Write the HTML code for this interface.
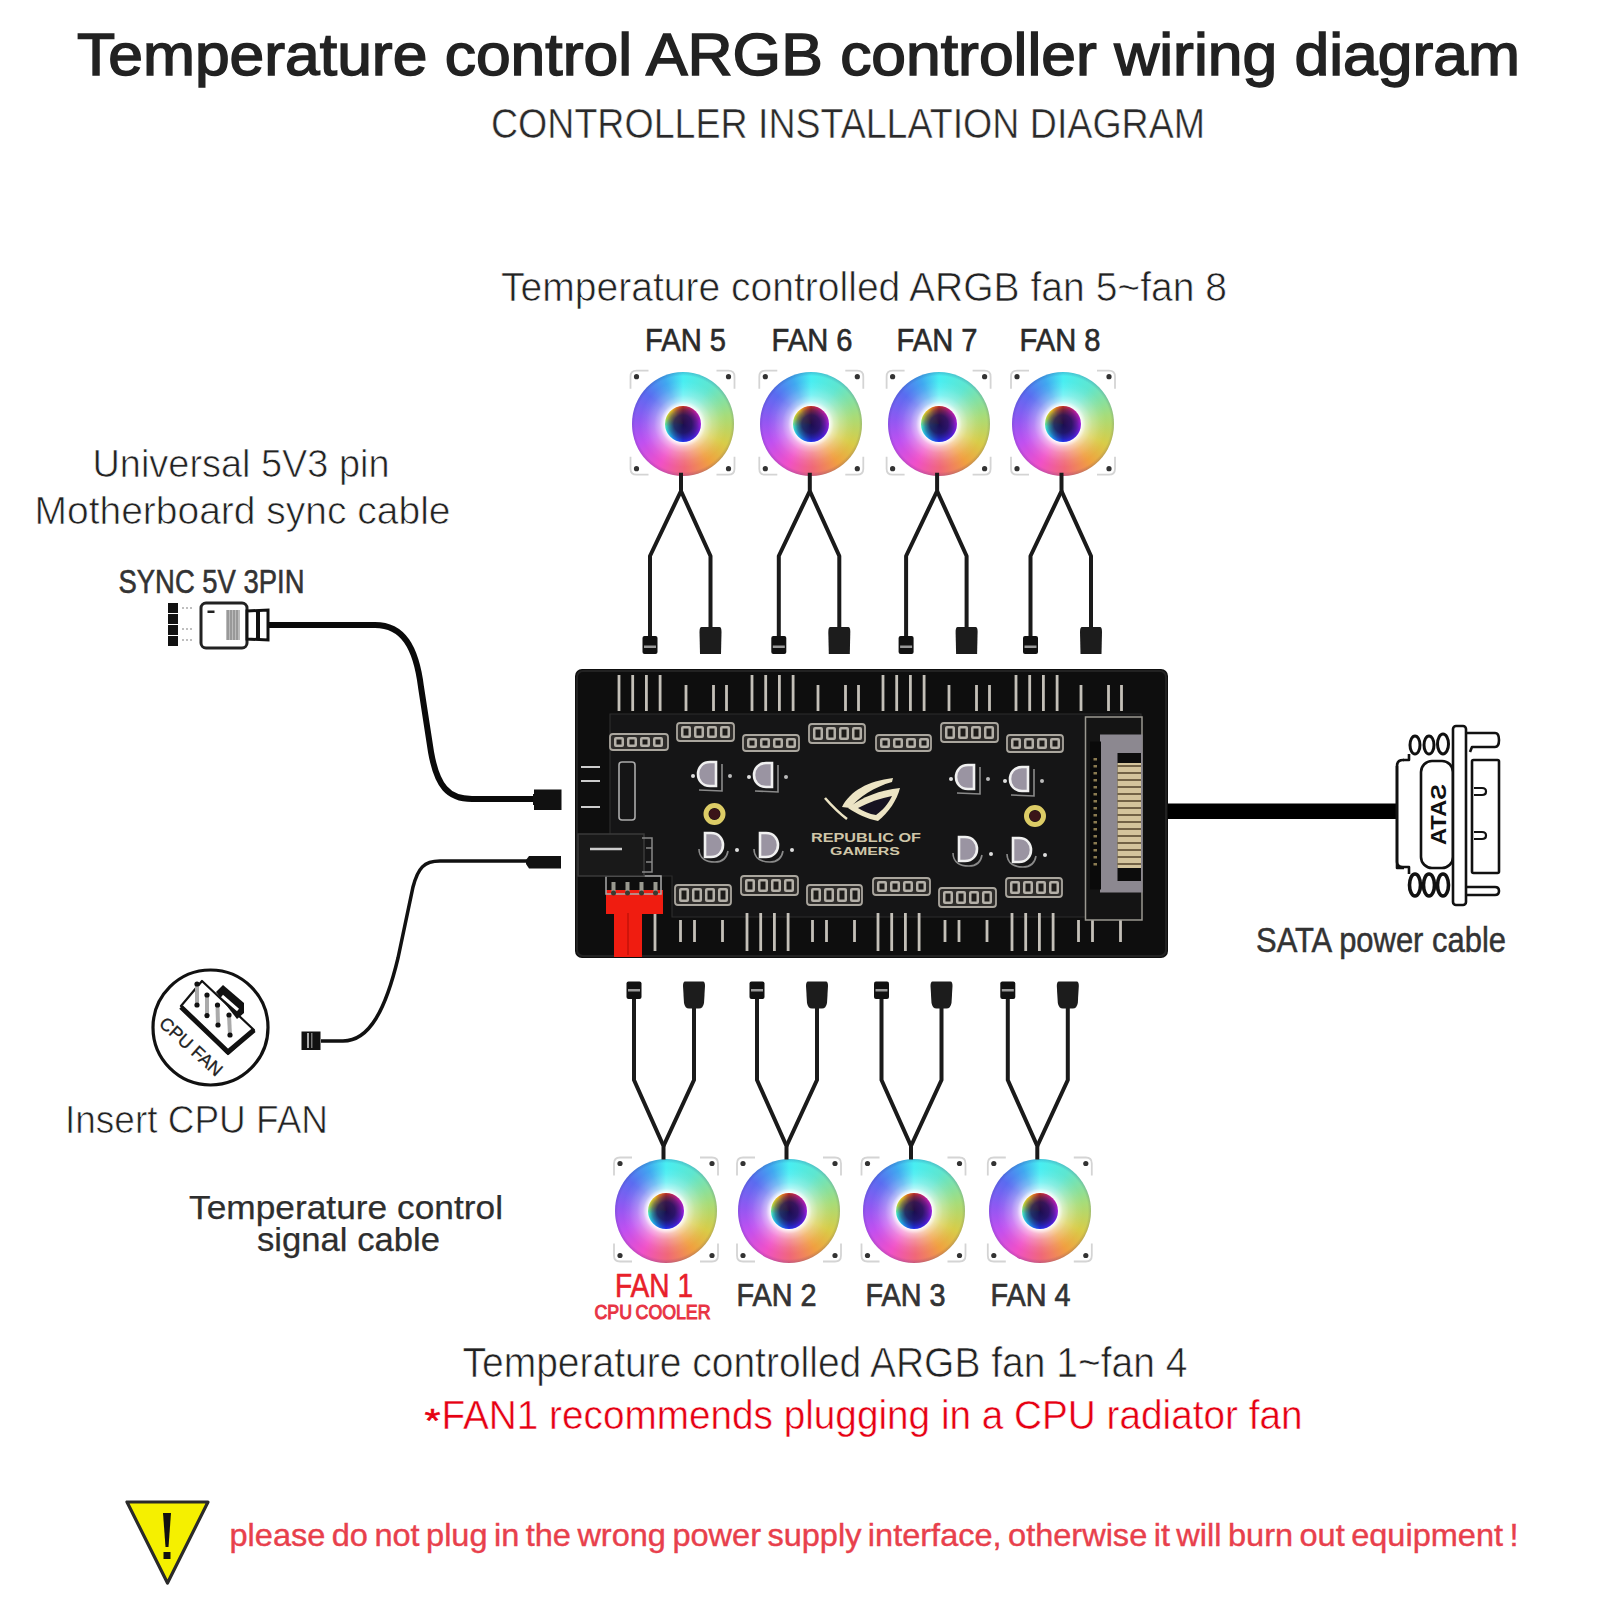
<!DOCTYPE html>
<html><head><meta charset="utf-8"><style>
html,body{margin:0;padding:0;background:#fff;}
body{width:1600px;height:1600px;position:relative;overflow:hidden;font-family:"Liberation Sans", sans-serif;}
svg{position:absolute;left:0;top:0;}
.fan{position:absolute;width:102px;height:104px;border-radius:50%;
background:conic-gradient(from 0deg,#48eef2 0deg,#5ee6d0 35deg,#a8dc78 80deg,#d8cc48 115deg,#f0a040 145deg,#f06878 178deg,#f050c8 210deg,#c050f0 245deg,#9058f2 275deg,#5a6cf0 310deg,#40a8f0 338deg,#48eef2 360deg);}
.fan .glow{position:absolute;inset:0;border-radius:50%;background:radial-gradient(circle at 50% 50%,rgba(255,255,255,1) 0px,rgba(255,255,255,1) 18px,rgba(255,255,255,.55) 23px,rgba(255,255,255,.28) 29px,rgba(255,255,255,.08) 37px,rgba(255,255,255,0) 43px,rgba(30,30,120,0) 48px,rgba(30,30,120,.2) 52px);}
.fan .hub{position:absolute;left:33px;top:34px;width:36px;height:36px;border-radius:50%;
background:radial-gradient(circle,rgba(25,12,70,.95) 0,rgba(30,18,85,.85) 9px,rgba(30,20,90,.45) 14px,rgba(0,0,0,0) 18px),conic-gradient(from 0deg,#c03020 0deg,#c020a0 45deg,#a020e0 90deg,#5020e0 135deg,#2030f0 180deg,#20b0f0 225deg,#40f0d0 260deg,#c0e040 290deg,#f0c020 320deg,#e06020 345deg,#c03020 360deg);}
</style></head><body>
<svg width="1600" height="1600" viewBox="0 0 1600 1600">
<circle cx="636.5" cy="376.7" r="2.6" fill="#333"/>
<path d="M630.5,388.7 L630.5,376.7 Q630.5,370.7 636.5,370.7 L648.5,370.7" fill="none" stroke="#d4d4d4" stroke-width="1.8"/>
<circle cx="636.5" cy="468.7" r="2.6" fill="#333"/>
<path d="M630.5,456.7 L630.5,468.7 Q630.5,474.7 636.5,474.7 L648.5,474.7" fill="none" stroke="#d4d4d4" stroke-width="1.8"/>
<circle cx="728.5" cy="376.7" r="2.6" fill="#333"/>
<path d="M734.5,388.7 L734.5,376.7 Q734.5,370.7 728.5,370.7 L716.5,370.7" fill="none" stroke="#d4d4d4" stroke-width="1.8"/>
<circle cx="728.5" cy="468.7" r="2.6" fill="#333"/>
<path d="M734.5,456.7 L734.5,468.7 Q734.5,474.7 728.5,474.7 L716.5,474.7" fill="none" stroke="#d4d4d4" stroke-width="1.8"/>
<circle cx="765.3" cy="376.7" r="2.6" fill="#333"/>
<path d="M759.3,388.7 L759.3,376.7 Q759.3,370.7 765.3,370.7 L777.3,370.7" fill="none" stroke="#d4d4d4" stroke-width="1.8"/>
<circle cx="765.3" cy="468.7" r="2.6" fill="#333"/>
<path d="M759.3,456.7 L759.3,468.7 Q759.3,474.7 765.3,474.7 L777.3,474.7" fill="none" stroke="#d4d4d4" stroke-width="1.8"/>
<circle cx="857.3" cy="376.7" r="2.6" fill="#333"/>
<path d="M863.3,388.7 L863.3,376.7 Q863.3,370.7 857.3,370.7 L845.3,370.7" fill="none" stroke="#d4d4d4" stroke-width="1.8"/>
<circle cx="857.3" cy="468.7" r="2.6" fill="#333"/>
<path d="M863.3,456.7 L863.3,468.7 Q863.3,474.7 857.3,474.7 L845.3,474.7" fill="none" stroke="#d4d4d4" stroke-width="1.8"/>
<circle cx="892.6" cy="376.7" r="2.6" fill="#333"/>
<path d="M886.6,388.7 L886.6,376.7 Q886.6,370.7 892.6,370.7 L904.6,370.7" fill="none" stroke="#d4d4d4" stroke-width="1.8"/>
<circle cx="892.6" cy="468.7" r="2.6" fill="#333"/>
<path d="M886.6,456.7 L886.6,468.7 Q886.6,474.7 892.6,474.7 L904.6,474.7" fill="none" stroke="#d4d4d4" stroke-width="1.8"/>
<circle cx="984.6" cy="376.7" r="2.6" fill="#333"/>
<path d="M990.6,388.7 L990.6,376.7 Q990.6,370.7 984.6,370.7 L972.6,370.7" fill="none" stroke="#d4d4d4" stroke-width="1.8"/>
<circle cx="984.6" cy="468.7" r="2.6" fill="#333"/>
<path d="M990.6,456.7 L990.6,468.7 Q990.6,474.7 984.6,474.7 L972.6,474.7" fill="none" stroke="#d4d4d4" stroke-width="1.8"/>
<circle cx="1017.0" cy="376.7" r="2.6" fill="#333"/>
<path d="M1011.0,388.7 L1011.0,376.7 Q1011.0,370.7 1017.0,370.7 L1029.0,370.7" fill="none" stroke="#d4d4d4" stroke-width="1.8"/>
<circle cx="1017.0" cy="468.7" r="2.6" fill="#333"/>
<path d="M1011.0,456.7 L1011.0,468.7 Q1011.0,474.7 1017.0,474.7 L1029.0,474.7" fill="none" stroke="#d4d4d4" stroke-width="1.8"/>
<circle cx="1109.0" cy="376.7" r="2.6" fill="#333"/>
<path d="M1115.0,388.7 L1115.0,376.7 Q1115.0,370.7 1109.0,370.7 L1097.0,370.7" fill="none" stroke="#d4d4d4" stroke-width="1.8"/>
<circle cx="1109.0" cy="468.7" r="2.6" fill="#333"/>
<path d="M1115.0,456.7 L1115.0,468.7 Q1115.0,474.7 1109.0,474.7 L1097.0,474.7" fill="none" stroke="#d4d4d4" stroke-width="1.8"/>
<circle cx="620.0" cy="1163.5" r="2.6" fill="#333"/>
<path d="M614.0,1175.5 L614.0,1163.5 Q614.0,1157.5 620.0,1157.5 L632.0,1157.5" fill="none" stroke="#d4d4d4" stroke-width="1.8"/>
<circle cx="620.0" cy="1255.5" r="2.6" fill="#333"/>
<path d="M614.0,1243.5 L614.0,1255.5 Q614.0,1261.5 620.0,1261.5 L632.0,1261.5" fill="none" stroke="#d4d4d4" stroke-width="1.8"/>
<circle cx="712.0" cy="1163.5" r="2.6" fill="#333"/>
<path d="M718.0,1175.5 L718.0,1163.5 Q718.0,1157.5 712.0,1157.5 L700.0,1157.5" fill="none" stroke="#d4d4d4" stroke-width="1.8"/>
<circle cx="712.0" cy="1255.5" r="2.6" fill="#333"/>
<path d="M718.0,1243.5 L718.0,1255.5 Q718.0,1261.5 712.0,1261.5 L700.0,1261.5" fill="none" stroke="#d4d4d4" stroke-width="1.8"/>
<circle cx="743.0" cy="1163.5" r="2.6" fill="#333"/>
<path d="M737.0,1175.5 L737.0,1163.5 Q737.0,1157.5 743.0,1157.5 L755.0,1157.5" fill="none" stroke="#d4d4d4" stroke-width="1.8"/>
<circle cx="743.0" cy="1255.5" r="2.6" fill="#333"/>
<path d="M737.0,1243.5 L737.0,1255.5 Q737.0,1261.5 743.0,1261.5 L755.0,1261.5" fill="none" stroke="#d4d4d4" stroke-width="1.8"/>
<circle cx="835.0" cy="1163.5" r="2.6" fill="#333"/>
<path d="M841.0,1175.5 L841.0,1163.5 Q841.0,1157.5 835.0,1157.5 L823.0,1157.5" fill="none" stroke="#d4d4d4" stroke-width="1.8"/>
<circle cx="835.0" cy="1255.5" r="2.6" fill="#333"/>
<path d="M841.0,1243.5 L841.0,1255.5 Q841.0,1261.5 835.0,1261.5 L823.0,1261.5" fill="none" stroke="#d4d4d4" stroke-width="1.8"/>
<circle cx="867.5" cy="1163.5" r="2.6" fill="#333"/>
<path d="M861.5,1175.5 L861.5,1163.5 Q861.5,1157.5 867.5,1157.5 L879.5,1157.5" fill="none" stroke="#d4d4d4" stroke-width="1.8"/>
<circle cx="867.5" cy="1255.5" r="2.6" fill="#333"/>
<path d="M861.5,1243.5 L861.5,1255.5 Q861.5,1261.5 867.5,1261.5 L879.5,1261.5" fill="none" stroke="#d4d4d4" stroke-width="1.8"/>
<circle cx="959.5" cy="1163.5" r="2.6" fill="#333"/>
<path d="M965.5,1175.5 L965.5,1163.5 Q965.5,1157.5 959.5,1157.5 L947.5,1157.5" fill="none" stroke="#d4d4d4" stroke-width="1.8"/>
<circle cx="959.5" cy="1255.5" r="2.6" fill="#333"/>
<path d="M965.5,1243.5 L965.5,1255.5 Q965.5,1261.5 959.5,1261.5 L947.5,1261.5" fill="none" stroke="#d4d4d4" stroke-width="1.8"/>
<circle cx="993.8" cy="1163.5" r="2.6" fill="#333"/>
<path d="M987.8,1175.5 L987.8,1163.5 Q987.8,1157.5 993.8,1157.5 L1005.8,1157.5" fill="none" stroke="#d4d4d4" stroke-width="1.8"/>
<circle cx="993.8" cy="1255.5" r="2.6" fill="#333"/>
<path d="M987.8,1243.5 L987.8,1255.5 Q987.8,1261.5 993.8,1261.5 L1005.8,1261.5" fill="none" stroke="#d4d4d4" stroke-width="1.8"/>
<circle cx="1085.8" cy="1163.5" r="2.6" fill="#333"/>
<path d="M1091.8,1175.5 L1091.8,1163.5 Q1091.8,1157.5 1085.8,1157.5 L1073.8,1157.5" fill="none" stroke="#d4d4d4" stroke-width="1.8"/>
<circle cx="1085.8" cy="1255.5" r="2.6" fill="#333"/>
<path d="M1091.8,1243.5 L1091.8,1255.5 Q1091.8,1261.5 1085.8,1261.5 L1073.8,1261.5" fill="none" stroke="#d4d4d4" stroke-width="1.8"/>
</svg>
<div class="fan" style="left:631.5px;top:371.7px"><div class="glow"></div><div class="hub"></div></div>
<div class="fan" style="left:760.3px;top:371.7px"><div class="glow"></div><div class="hub"></div></div>
<div class="fan" style="left:887.6px;top:371.7px"><div class="glow"></div><div class="hub"></div></div>
<div class="fan" style="left:1012.0px;top:371.7px"><div class="glow"></div><div class="hub"></div></div>
<div class="fan" style="left:615.0px;top:1158.5px"><div class="glow"></div><div class="hub"></div></div>
<div class="fan" style="left:738.0px;top:1158.5px"><div class="glow"></div><div class="hub"></div></div>
<div class="fan" style="left:862.5px;top:1158.5px"><div class="glow"></div><div class="hub"></div></div>
<div class="fan" style="left:988.8px;top:1158.5px"><div class="glow"></div><div class="hub"></div></div>
<svg width="1600" height="1600" viewBox="0 0 1600 1600" font-family='"Liberation Sans", sans-serif'>
<path d="M681.0,472.7 L681.0,491 L650.0,556 L650.0,640" fill="none" stroke="#1a1a1a" stroke-width="4" stroke-linejoin="round"/>
<path d="M681.0,491 L710.5,556 L710.5,630" fill="none" stroke="#1a1a1a" stroke-width="4" stroke-linejoin="round"/>
<rect x="642.5" y="636" width="15" height="18" rx="2" fill="#111"/><rect x="644.0" y="645.5" width="12" height="2.5" fill="#999"/>
<path d="M701.5,627 L719.5,627 Q721.5,627 721.5,632 L721.0,654 L700.0,654 L699.5,632 Q699.5,627 701.5,627 Z" fill="#1c1c1c"/>
<path d="M809.8,472.7 L809.8,491 L778.8,556 L778.8,640" fill="none" stroke="#1a1a1a" stroke-width="4" stroke-linejoin="round"/>
<path d="M809.8,491 L839.3,556 L839.3,630" fill="none" stroke="#1a1a1a" stroke-width="4" stroke-linejoin="round"/>
<rect x="771.3" y="636" width="15" height="18" rx="2" fill="#111"/><rect x="772.8" y="645.5" width="12" height="2.5" fill="#999"/>
<path d="M830.3,627 L848.3,627 Q850.3,627 850.3,632 L849.8,654 L828.8,654 L828.3,632 Q828.3,627 830.3,627 Z" fill="#1c1c1c"/>
<path d="M937.1,472.7 L937.1,491 L906.1,556 L906.1,640" fill="none" stroke="#1a1a1a" stroke-width="4" stroke-linejoin="round"/>
<path d="M937.1,491 L966.6,556 L966.6,630" fill="none" stroke="#1a1a1a" stroke-width="4" stroke-linejoin="round"/>
<rect x="898.6" y="636" width="15" height="18" rx="2" fill="#111"/><rect x="900.1" y="645.5" width="12" height="2.5" fill="#999"/>
<path d="M957.6,627 L975.6,627 Q977.6,627 977.6,632 L977.1,654 L956.1,654 L955.6,632 Q955.6,627 957.6,627 Z" fill="#1c1c1c"/>
<path d="M1061.5,472.7 L1061.5,491 L1030.5,556 L1030.5,640" fill="none" stroke="#1a1a1a" stroke-width="4" stroke-linejoin="round"/>
<path d="M1061.5,491 L1091.0,556 L1091.0,630" fill="none" stroke="#1a1a1a" stroke-width="4" stroke-linejoin="round"/>
<rect x="1023.0" y="636" width="15" height="18" rx="2" fill="#111"/><rect x="1024.5" y="645.5" width="12" height="2.5" fill="#999"/>
<path d="M1082.0,627 L1100.0,627 Q1102.0,627 1102.0,632 L1101.5,654 L1080.5,654 L1080.0,632 Q1080.0,627 1082.0,627 Z" fill="#1c1c1c"/>
<path d="M663.5,1159.5 L663.5,1146 L634.0,1080 L634.0,998" fill="none" stroke="#1a1a1a" stroke-width="4" stroke-linejoin="round"/>
<path d="M663.5,1146 L694.0,1080 L694.0,1006" fill="none" stroke="#1a1a1a" stroke-width="4" stroke-linejoin="round"/>
<rect x="626.5" y="981.5" width="15" height="17.5" rx="2" fill="#111"/><rect x="628.0" y="989" width="12" height="2.5" fill="#999"/>
<path d="M685.0,981.5 L703.0,981.5 Q705.0,981.5 705.0,986 L704.0,1003 Q703.0,1008.5 699.0,1008.5 L689.0,1008.5 Q685.0,1008.5 684.0,1003 L683.0,986 Q683.0,981.5 685.0,981.5 Z" fill="#1c1c1c"/>
<path d="M786.5,1159.5 L786.5,1146 L757.0,1080 L757.0,998" fill="none" stroke="#1a1a1a" stroke-width="4" stroke-linejoin="round"/>
<path d="M786.5,1146 L817.0,1080 L817.0,1006" fill="none" stroke="#1a1a1a" stroke-width="4" stroke-linejoin="round"/>
<rect x="749.5" y="981.5" width="15" height="17.5" rx="2" fill="#111"/><rect x="751.0" y="989" width="12" height="2.5" fill="#999"/>
<path d="M808.0,981.5 L826.0,981.5 Q828.0,981.5 828.0,986 L827.0,1003 Q826.0,1008.5 822.0,1008.5 L812.0,1008.5 Q808.0,1008.5 807.0,1003 L806.0,986 Q806.0,981.5 808.0,981.5 Z" fill="#1c1c1c"/>
<path d="M911.0,1159.5 L911.0,1146 L881.5,1080 L881.5,998" fill="none" stroke="#1a1a1a" stroke-width="4" stroke-linejoin="round"/>
<path d="M911.0,1146 L941.5,1080 L941.5,1006" fill="none" stroke="#1a1a1a" stroke-width="4" stroke-linejoin="round"/>
<rect x="874.0" y="981.5" width="15" height="17.5" rx="2" fill="#111"/><rect x="875.5" y="989" width="12" height="2.5" fill="#999"/>
<path d="M932.5,981.5 L950.5,981.5 Q952.5,981.5 952.5,986 L951.5,1003 Q950.5,1008.5 946.5,1008.5 L936.5,1008.5 Q932.5,1008.5 931.5,1003 L930.5,986 Q930.5,981.5 932.5,981.5 Z" fill="#1c1c1c"/>
<path d="M1037.3,1159.5 L1037.3,1146 L1007.8,1080 L1007.8,998" fill="none" stroke="#1a1a1a" stroke-width="4" stroke-linejoin="round"/>
<path d="M1037.3,1146 L1067.8,1080 L1067.8,1006" fill="none" stroke="#1a1a1a" stroke-width="4" stroke-linejoin="round"/>
<rect x="1000.3" y="981.5" width="15" height="17.5" rx="2" fill="#111"/><rect x="1001.8" y="989" width="12" height="2.5" fill="#999"/>
<path d="M1058.8,981.5 L1076.8,981.5 Q1078.8,981.5 1078.8,986 L1077.8,1003 Q1076.8,1008.5 1072.8,1008.5 L1062.8,1008.5 Q1058.8,1008.5 1057.8,1003 L1056.8,986 Q1056.8,981.5 1058.8,981.5 Z" fill="#1c1c1c"/>
<path d="M268,625 L375,625 C403,625 416,647 421,687 L431,752 C437,786 448,799 472,799 L536,799" fill="none" stroke="#0a0a0a" stroke-width="6"/>
<rect x="534" y="789.5" width="27.5" height="20.5" fill="#111"/><rect x="533" y="794" width="4" height="11" fill="#111"/>
<rect x="168" y="603" width="10" height="43" fill="#111"/>
<line x1="168" y1="613.5" x2="178" y2="613.5" stroke="#fff" stroke-width="1"/>
<line x1="168" y1="624.5" x2="178" y2="624.5" stroke="#fff" stroke-width="1"/>
<line x1="168" y1="635.5" x2="178" y2="635.5" stroke="#fff" stroke-width="1"/>
<line x1="182" y1="608" x2="193" y2="608" stroke="#aaa" stroke-width="1.5" stroke-dasharray="2,2"/>
<line x1="182" y1="629" x2="193" y2="629" stroke="#aaa" stroke-width="1.5" stroke-dasharray="2,2"/>
<line x1="182" y1="640" x2="193" y2="640" stroke="#aaa" stroke-width="1.5" stroke-dasharray="2,2"/>
<rect x="201" y="603" width="46" height="45" rx="5" fill="#fff" stroke="#222" stroke-width="3"/>
<rect x="207.5" y="610.5" width="7" height="2.5" fill="#222"/>
<rect x="226" y="610" width="14" height="30" fill="#bbb"/>
<line x1="228" y1="610" x2="228" y2="640" stroke="#777" stroke-width="1"/>
<line x1="231" y1="610" x2="231" y2="640" stroke="#777" stroke-width="1"/>
<line x1="234" y1="610" x2="234" y2="640" stroke="#777" stroke-width="1"/>
<line x1="237" y1="610" x2="237" y2="640" stroke="#777" stroke-width="1"/>
<path d="M247,611 L268,610 L268,640 L247,639 Z" fill="#fff" stroke="#111" stroke-width="3"/>
<rect x="256" y="611" width="4" height="28" fill="#111"/>
<path d="M321,1041 L343,1041 C370,1041 386,1008 398,958 L413,887 C418,868 424,861 440,861 L530,861" fill="none" stroke="#111" stroke-width="3.5"/>
<rect x="301.5" y="1031.5" width="19" height="18.5" fill="#111"/><rect x="307" y="1033" width="2" height="15" fill="#aaa"/><rect x="311" y="1033" width="1.5" height="15" fill="#777"/>
<path d="M529,856 L561,856 L561,868.5 L529,868.5 L526,864 L526,860 Z" fill="#111"/>
<circle cx="210.5" cy="1027.5" r="57.5" fill="none" stroke="#111" stroke-width="3.2"/>
<polygon points="181,1006 202,981 254,1030 228,1054" fill="#fff" stroke="#111" stroke-width="2.2" stroke-linejoin="round"/>
<path d="M181,1007 L228,1052 L254,1030" fill="none" stroke="#111" stroke-width="5" stroke-linejoin="round"/>
<path d="M216,992 L223,985 L244,1003 L244,1013 L237,1019 Z" fill="#111"/>
<path d="M222,996 L238,1010" stroke="#fff" stroke-width="3"/>
<line x1="197" y1="984" x2="197" y2="1005" stroke="#aaa" stroke-width="4"/><circle cx="197" cy="984" r="2.6" fill="#111"/><circle cx="197" cy="1005" r="2.6" fill="#111"/>
<line x1="207" y1="995" x2="207" y2="1015.6" stroke="#aaa" stroke-width="4"/><circle cx="207" cy="995" r="2.6" fill="#111"/><circle cx="207" cy="1015.6" r="2.6" fill="#111"/>
<line x1="217.5" y1="1005" x2="218" y2="1025" stroke="#aaa" stroke-width="4"/><circle cx="217.5" cy="1005" r="2.6" fill="#111"/><circle cx="218" cy="1025" r="2.6" fill="#111"/>
<line x1="229" y1="1015" x2="230" y2="1035" stroke="#aaa" stroke-width="4"/><circle cx="229" cy="1015" r="2.6" fill="#111"/><circle cx="230" cy="1035" r="2.6" fill="#111"/>
<text transform="translate(158,1025) rotate(42)" font-family='"Liberation Sans", sans-serif' font-size="18" fill="#222" stroke="#222" stroke-width="0.3" textLength="78" lengthAdjust="spacingAndGlyphs">CPU FAN</text>
<rect x="1167" y="803.5" width="232" height="15.5" fill="#000"/>
<g fill="#fff" stroke="#111" stroke-width="2.6" stroke-linejoin="round"><path d="M1397,868 L1397,766 Q1397,760 1403,760 L1411,760 L1411,868 Z"/><rect x="1404" y="752" width="50" height="124" fill="#fff" stroke="none"/><path d="M1403,760 L1409,760 L1409,754 M1403,867 L1409,867 L1409,874" fill="none"/><path d="M1397,766 L1397,862 Q1397,867 1403,867" fill="none"/><rect x="1421" y="761" width="32" height="107" rx="11"/><path d="M1466,733 L1495,733 Q1499,733 1499,740 Q1499,747 1495,747 L1472,747 L1470,752" fill="none"/><rect x="1472" y="760" width="27" height="113" rx="1.5"/><path d="M1466,887 L1495,887 Q1499,887 1499,891 Q1499,895 1495,895 L1466,895" fill="none"/><rect x="1453" y="726" width="13" height="179" rx="3"/></g>
<g fill="#fff" stroke="#111" stroke-width="3"><ellipse cx="1415" cy="745" rx="5" ry="9"/><ellipse cx="1429" cy="745" rx="5" ry="9"/><ellipse cx="1443" cy="744" rx="5.5" ry="10"/><ellipse cx="1415" cy="885" rx="5.5" ry="11" stroke-width="3.6"/><ellipse cx="1429" cy="885" rx="5.5" ry="11" stroke-width="3.6"/><ellipse cx="1443" cy="885" rx="5.5" ry="11" stroke-width="3.6"/></g>
<g fill="none" stroke="#111" stroke-width="2.2"><path d="M1474,788 L1482,788 Q1486,788 1486,791.5 Q1486,795 1482,795 L1474,795 M1474,832 L1482,832 Q1486,832 1486,835.5 Q1486,839 1482,839 L1474,839"/></g>
<text transform="translate(1446,784) scale(1,-1) rotate(-90)" font-family='"Liberation Sans", sans-serif' font-weight="bold" font-size="22" fill="#111" textLength="61" lengthAdjust="spacingAndGlyphs">SATA</text>
<rect x="575" y="669" width="593" height="289" rx="7" fill="#0e0e0e"/>
<rect x="577" y="671" width="589" height="285" rx="6" fill="none" stroke="#222" stroke-width="2"/>
<path d="M610,714 L1141,714 L1141,917 L672,917 L672,876 L610,876 Z" fill="#151516" stroke="#2c2c2c" stroke-width="1.2"/>
<line x1="619.0" y1="675" x2="619.0" y2="711" stroke="#c4c0b8" stroke-width="2.8"/>
<line x1="632.7" y1="675" x2="632.7" y2="711" stroke="#c4c0b8" stroke-width="2.8"/>
<line x1="646.4" y1="675" x2="646.4" y2="711" stroke="#c4c0b8" stroke-width="2.8"/>
<line x1="660.1" y1="675" x2="660.1" y2="711" stroke="#c4c0b8" stroke-width="2.8"/>
<line x1="752.0" y1="675" x2="752.0" y2="711" stroke="#c4c0b8" stroke-width="2.8"/>
<line x1="765.7" y1="675" x2="765.7" y2="711" stroke="#c4c0b8" stroke-width="2.8"/>
<line x1="779.4" y1="675" x2="779.4" y2="711" stroke="#c4c0b8" stroke-width="2.8"/>
<line x1="793.1" y1="675" x2="793.1" y2="711" stroke="#c4c0b8" stroke-width="2.8"/>
<line x1="883.0" y1="675" x2="883.0" y2="711" stroke="#c4c0b8" stroke-width="2.8"/>
<line x1="896.7" y1="675" x2="896.7" y2="711" stroke="#c4c0b8" stroke-width="2.8"/>
<line x1="910.4" y1="675" x2="910.4" y2="711" stroke="#c4c0b8" stroke-width="2.8"/>
<line x1="924.1" y1="675" x2="924.1" y2="711" stroke="#c4c0b8" stroke-width="2.8"/>
<line x1="1016.0" y1="675" x2="1016.0" y2="711" stroke="#c4c0b8" stroke-width="2.8"/>
<line x1="1029.7" y1="675" x2="1029.7" y2="711" stroke="#c4c0b8" stroke-width="2.8"/>
<line x1="1043.4" y1="675" x2="1043.4" y2="711" stroke="#c4c0b8" stroke-width="2.8"/>
<line x1="1057.1" y1="675" x2="1057.1" y2="711" stroke="#c4c0b8" stroke-width="2.8"/>
<line x1="686.0" y1="685" x2="686.0" y2="711" stroke="#c4c0b8" stroke-width="2.8"/>
<line x1="713.5" y1="685" x2="713.5" y2="711" stroke="#c4c0b8" stroke-width="2.8"/>
<line x1="726.5" y1="685" x2="726.5" y2="711" stroke="#c4c0b8" stroke-width="2.8"/>
<line x1="818.0" y1="685" x2="818.0" y2="711" stroke="#c4c0b8" stroke-width="2.8"/>
<line x1="845.5" y1="685" x2="845.5" y2="711" stroke="#c4c0b8" stroke-width="2.8"/>
<line x1="858.5" y1="685" x2="858.5" y2="711" stroke="#c4c0b8" stroke-width="2.8"/>
<line x1="949.0" y1="685" x2="949.0" y2="711" stroke="#c4c0b8" stroke-width="2.8"/>
<line x1="976.5" y1="685" x2="976.5" y2="711" stroke="#c4c0b8" stroke-width="2.8"/>
<line x1="989.5" y1="685" x2="989.5" y2="711" stroke="#c4c0b8" stroke-width="2.8"/>
<line x1="1081.0" y1="685" x2="1081.0" y2="711" stroke="#c4c0b8" stroke-width="2.8"/>
<line x1="1108.5" y1="685" x2="1108.5" y2="711" stroke="#c4c0b8" stroke-width="2.8"/>
<line x1="1121.5" y1="685" x2="1121.5" y2="711" stroke="#c4c0b8" stroke-width="2.8"/>
<line x1="747.0" y1="913" x2="747.0" y2="951" stroke="#c4c0b8" stroke-width="2.8"/>
<line x1="760.7" y1="913" x2="760.7" y2="951" stroke="#c4c0b8" stroke-width="2.8"/>
<line x1="774.4" y1="913" x2="774.4" y2="951" stroke="#c4c0b8" stroke-width="2.8"/>
<line x1="788.1" y1="913" x2="788.1" y2="951" stroke="#c4c0b8" stroke-width="2.8"/>
<line x1="878.0" y1="913" x2="878.0" y2="951" stroke="#c4c0b8" stroke-width="2.8"/>
<line x1="891.7" y1="913" x2="891.7" y2="951" stroke="#c4c0b8" stroke-width="2.8"/>
<line x1="905.4" y1="913" x2="905.4" y2="951" stroke="#c4c0b8" stroke-width="2.8"/>
<line x1="919.1" y1="913" x2="919.1" y2="951" stroke="#c4c0b8" stroke-width="2.8"/>
<line x1="1012.0" y1="913" x2="1012.0" y2="951" stroke="#c4c0b8" stroke-width="2.8"/>
<line x1="1025.7" y1="913" x2="1025.7" y2="951" stroke="#c4c0b8" stroke-width="2.8"/>
<line x1="1039.4" y1="913" x2="1039.4" y2="951" stroke="#c4c0b8" stroke-width="2.8"/>
<line x1="1053.1" y1="913" x2="1053.1" y2="951" stroke="#c4c0b8" stroke-width="2.8"/>
<line x1="680.5" y1="920" x2="680.5" y2="942" stroke="#c4c0b8" stroke-width="2.8"/>
<line x1="694.5" y1="920" x2="694.5" y2="942" stroke="#c4c0b8" stroke-width="2.8"/>
<line x1="722.5" y1="920" x2="722.5" y2="942" stroke="#c4c0b8" stroke-width="2.8"/>
<line x1="812.5" y1="920" x2="812.5" y2="942" stroke="#c4c0b8" stroke-width="2.8"/>
<line x1="826.5" y1="920" x2="826.5" y2="942" stroke="#c4c0b8" stroke-width="2.8"/>
<line x1="854.5" y1="920" x2="854.5" y2="942" stroke="#c4c0b8" stroke-width="2.8"/>
<line x1="945.0" y1="920" x2="945.0" y2="942" stroke="#c4c0b8" stroke-width="2.8"/>
<line x1="959.0" y1="920" x2="959.0" y2="942" stroke="#c4c0b8" stroke-width="2.8"/>
<line x1="987.0" y1="920" x2="987.0" y2="942" stroke="#c4c0b8" stroke-width="2.8"/>
<line x1="1078.5" y1="920" x2="1078.5" y2="942" stroke="#c4c0b8" stroke-width="2.8"/>
<line x1="1092.5" y1="920" x2="1092.5" y2="942" stroke="#c4c0b8" stroke-width="2.8"/>
<line x1="1120.5" y1="920" x2="1120.5" y2="942" stroke="#c4c0b8" stroke-width="2.8"/>
<line x1="655" y1="913" x2="655" y2="951" stroke="#c4c0b8" stroke-width="2.8"/>
<rect x="606" y="890" width="57" height="24" fill="#f01c10"/>
<rect x="614" y="913" width="28" height="44" fill="#f01c10"/>
<line x1="628" y1="913" x2="628" y2="955" stroke="#c41208" stroke-width="1.5"/>
<rect x="606" y="876" width="55" height="18" fill="none" stroke="#aaa" stroke-width="1.5"/>
<rect x="611.5" y="882" width="4" height="10" fill="#9a9a90"/><circle cx="613.5" cy="893" r="2.5" fill="#3a3a30"/>
<rect x="625.5" y="882" width="4" height="10" fill="#9a9a90"/><circle cx="627.5" cy="893" r="2.5" fill="#3a3a30"/>
<rect x="639.5" y="882" width="4" height="10" fill="#9a9a90"/><circle cx="641.5" cy="893" r="2.5" fill="#3a3a30"/>
<rect x="653.5" y="882" width="4" height="10" fill="#9a9a90"/><circle cx="655.5" cy="893" r="2.5" fill="#3a3a30"/>
<rect x="610" y="734" width="58" height="16" rx="3" fill="#2e2c2a" stroke="#aaa69e" stroke-width="1.8"/>
<rect x="614" y="737" width="10" height="10" rx="2" fill="#b4b0a8"/>
<rect x="616.5" y="739.5" width="5" height="5" fill="#1e1c1a"/>
<rect x="627" y="737" width="10" height="10" rx="2" fill="#b4b0a8"/>
<rect x="629.5" y="739.5" width="5" height="5" fill="#1e1c1a"/>
<rect x="640" y="737" width="10" height="10" rx="2" fill="#b4b0a8"/>
<rect x="642.5" y="739.5" width="5" height="5" fill="#1e1c1a"/>
<rect x="653" y="737" width="10" height="10" rx="2" fill="#b4b0a8"/>
<rect x="655.5" y="739.5" width="5" height="5" fill="#1e1c1a"/>
<rect x="677" y="723" width="57" height="18" rx="3" fill="#2e2c2a" stroke="#aaa69e" stroke-width="1.8"/>
<rect x="681" y="726" width="10" height="12" rx="2" fill="#b4b0a8"/>
<rect x="683.5" y="728.5" width="5" height="7" fill="#1e1c1a"/>
<rect x="694" y="726" width="10" height="12" rx="2" fill="#b4b0a8"/>
<rect x="696.5" y="728.5" width="5" height="7" fill="#1e1c1a"/>
<rect x="707" y="726" width="10" height="12" rx="2" fill="#b4b0a8"/>
<rect x="709.5" y="728.5" width="5" height="7" fill="#1e1c1a"/>
<rect x="720" y="726" width="10" height="12" rx="2" fill="#b4b0a8"/>
<rect x="722.5" y="728.5" width="5" height="7" fill="#1e1c1a"/>
<rect x="743" y="735" width="56" height="16" rx="3" fill="#2e2c2a" stroke="#aaa69e" stroke-width="1.8"/>
<rect x="747" y="738" width="10" height="10" rx="2" fill="#b4b0a8"/>
<rect x="749.5" y="740.5" width="5" height="5" fill="#1e1c1a"/>
<rect x="760" y="738" width="10" height="10" rx="2" fill="#b4b0a8"/>
<rect x="762.5" y="740.5" width="5" height="5" fill="#1e1c1a"/>
<rect x="773" y="738" width="10" height="10" rx="2" fill="#b4b0a8"/>
<rect x="775.5" y="740.5" width="5" height="5" fill="#1e1c1a"/>
<rect x="786" y="738" width="10" height="10" rx="2" fill="#b4b0a8"/>
<rect x="788.5" y="740.5" width="5" height="5" fill="#1e1c1a"/>
<rect x="809" y="724" width="56" height="19" rx="3" fill="#2e2c2a" stroke="#aaa69e" stroke-width="1.8"/>
<rect x="813" y="727" width="10" height="13" rx="2" fill="#b4b0a8"/>
<rect x="815.5" y="729.5" width="5" height="8" fill="#1e1c1a"/>
<rect x="826" y="727" width="10" height="13" rx="2" fill="#b4b0a8"/>
<rect x="828.5" y="729.5" width="5" height="8" fill="#1e1c1a"/>
<rect x="839" y="727" width="10" height="13" rx="2" fill="#b4b0a8"/>
<rect x="841.5" y="729.5" width="5" height="8" fill="#1e1c1a"/>
<rect x="852" y="727" width="10" height="13" rx="2" fill="#b4b0a8"/>
<rect x="854.5" y="729.5" width="5" height="8" fill="#1e1c1a"/>
<rect x="876" y="735" width="55" height="16" rx="3" fill="#2e2c2a" stroke="#aaa69e" stroke-width="1.8"/>
<rect x="880" y="738" width="10" height="10" rx="2" fill="#b4b0a8"/>
<rect x="882.5" y="740.5" width="5" height="5" fill="#1e1c1a"/>
<rect x="893" y="738" width="10" height="10" rx="2" fill="#b4b0a8"/>
<rect x="895.5" y="740.5" width="5" height="5" fill="#1e1c1a"/>
<rect x="906" y="738" width="10" height="10" rx="2" fill="#b4b0a8"/>
<rect x="908.5" y="740.5" width="5" height="5" fill="#1e1c1a"/>
<rect x="919" y="738" width="10" height="10" rx="2" fill="#b4b0a8"/>
<rect x="921.5" y="740.5" width="5" height="5" fill="#1e1c1a"/>
<rect x="941" y="723" width="57" height="19" rx="3" fill="#2e2c2a" stroke="#aaa69e" stroke-width="1.8"/>
<rect x="945" y="726" width="10" height="13" rx="2" fill="#b4b0a8"/>
<rect x="947.5" y="728.5" width="5" height="8" fill="#1e1c1a"/>
<rect x="958" y="726" width="10" height="13" rx="2" fill="#b4b0a8"/>
<rect x="960.5" y="728.5" width="5" height="8" fill="#1e1c1a"/>
<rect x="971" y="726" width="10" height="13" rx="2" fill="#b4b0a8"/>
<rect x="973.5" y="728.5" width="5" height="8" fill="#1e1c1a"/>
<rect x="984" y="726" width="10" height="13" rx="2" fill="#b4b0a8"/>
<rect x="986.5" y="728.5" width="5" height="8" fill="#1e1c1a"/>
<rect x="1007" y="735" width="56" height="17" rx="3" fill="#2e2c2a" stroke="#aaa69e" stroke-width="1.8"/>
<rect x="1011" y="738" width="10" height="11" rx="2" fill="#b4b0a8"/>
<rect x="1013.5" y="740.5" width="5" height="6" fill="#1e1c1a"/>
<rect x="1024" y="738" width="10" height="11" rx="2" fill="#b4b0a8"/>
<rect x="1026.5" y="740.5" width="5" height="6" fill="#1e1c1a"/>
<rect x="1037" y="738" width="10" height="11" rx="2" fill="#b4b0a8"/>
<rect x="1039.5" y="740.5" width="5" height="6" fill="#1e1c1a"/>
<rect x="1050" y="738" width="10" height="11" rx="2" fill="#b4b0a8"/>
<rect x="1052.5" y="740.5" width="5" height="6" fill="#1e1c1a"/>
<rect x="675" y="885" width="56" height="20" rx="3" fill="#2e2c2a" stroke="#aaa69e" stroke-width="1.8"/>
<rect x="679" y="888" width="10" height="14" rx="2" fill="#b4b0a8"/>
<rect x="681.5" y="890.5" width="5" height="9" fill="#1e1c1a"/>
<rect x="692" y="888" width="10" height="14" rx="2" fill="#b4b0a8"/>
<rect x="694.5" y="890.5" width="5" height="9" fill="#1e1c1a"/>
<rect x="705" y="888" width="10" height="14" rx="2" fill="#b4b0a8"/>
<rect x="707.5" y="890.5" width="5" height="9" fill="#1e1c1a"/>
<rect x="718" y="888" width="10" height="14" rx="2" fill="#b4b0a8"/>
<rect x="720.5" y="890.5" width="5" height="9" fill="#1e1c1a"/>
<rect x="741" y="876" width="57" height="19" rx="3" fill="#2e2c2a" stroke="#aaa69e" stroke-width="1.8"/>
<rect x="745" y="879" width="10" height="13" rx="2" fill="#b4b0a8"/>
<rect x="747.5" y="881.5" width="5" height="8" fill="#1e1c1a"/>
<rect x="758" y="879" width="10" height="13" rx="2" fill="#b4b0a8"/>
<rect x="760.5" y="881.5" width="5" height="8" fill="#1e1c1a"/>
<rect x="771" y="879" width="10" height="13" rx="2" fill="#b4b0a8"/>
<rect x="773.5" y="881.5" width="5" height="8" fill="#1e1c1a"/>
<rect x="784" y="879" width="10" height="13" rx="2" fill="#b4b0a8"/>
<rect x="786.5" y="881.5" width="5" height="8" fill="#1e1c1a"/>
<rect x="807" y="885" width="55" height="20" rx="3" fill="#2e2c2a" stroke="#aaa69e" stroke-width="1.8"/>
<rect x="811" y="888" width="10" height="14" rx="2" fill="#b4b0a8"/>
<rect x="813.5" y="890.5" width="5" height="9" fill="#1e1c1a"/>
<rect x="824" y="888" width="10" height="14" rx="2" fill="#b4b0a8"/>
<rect x="826.5" y="890.5" width="5" height="9" fill="#1e1c1a"/>
<rect x="837" y="888" width="10" height="14" rx="2" fill="#b4b0a8"/>
<rect x="839.5" y="890.5" width="5" height="9" fill="#1e1c1a"/>
<rect x="850" y="888" width="10" height="14" rx="2" fill="#b4b0a8"/>
<rect x="852.5" y="890.5" width="5" height="9" fill="#1e1c1a"/>
<rect x="873" y="878" width="57" height="17" rx="3" fill="#2e2c2a" stroke="#aaa69e" stroke-width="1.8"/>
<rect x="877" y="881" width="10" height="11" rx="2" fill="#b4b0a8"/>
<rect x="879.5" y="883.5" width="5" height="6" fill="#1e1c1a"/>
<rect x="890" y="881" width="10" height="11" rx="2" fill="#b4b0a8"/>
<rect x="892.5" y="883.5" width="5" height="6" fill="#1e1c1a"/>
<rect x="903" y="881" width="10" height="11" rx="2" fill="#b4b0a8"/>
<rect x="905.5" y="883.5" width="5" height="6" fill="#1e1c1a"/>
<rect x="916" y="881" width="10" height="11" rx="2" fill="#b4b0a8"/>
<rect x="918.5" y="883.5" width="5" height="6" fill="#1e1c1a"/>
<rect x="939" y="888" width="57" height="19" rx="3" fill="#2e2c2a" stroke="#aaa69e" stroke-width="1.8"/>
<rect x="943" y="891" width="10" height="13" rx="2" fill="#b4b0a8"/>
<rect x="945.5" y="893.5" width="5" height="8" fill="#1e1c1a"/>
<rect x="956" y="891" width="10" height="13" rx="2" fill="#b4b0a8"/>
<rect x="958.5" y="893.5" width="5" height="8" fill="#1e1c1a"/>
<rect x="969" y="891" width="10" height="13" rx="2" fill="#b4b0a8"/>
<rect x="971.5" y="893.5" width="5" height="8" fill="#1e1c1a"/>
<rect x="982" y="891" width="10" height="13" rx="2" fill="#b4b0a8"/>
<rect x="984.5" y="893.5" width="5" height="8" fill="#1e1c1a"/>
<rect x="1006" y="878" width="56" height="19" rx="3" fill="#2e2c2a" stroke="#aaa69e" stroke-width="1.8"/>
<rect x="1010" y="881" width="10" height="13" rx="2" fill="#b4b0a8"/>
<rect x="1012.5" y="883.5" width="5" height="8" fill="#1e1c1a"/>
<rect x="1023" y="881" width="10" height="13" rx="2" fill="#b4b0a8"/>
<rect x="1025.5" y="883.5" width="5" height="8" fill="#1e1c1a"/>
<rect x="1036" y="881" width="10" height="13" rx="2" fill="#b4b0a8"/>
<rect x="1038.5" y="883.5" width="5" height="8" fill="#1e1c1a"/>
<rect x="1049" y="881" width="10" height="13" rx="2" fill="#b4b0a8"/>
<rect x="1051.5" y="883.5" width="5" height="8" fill="#1e1c1a"/>
<line x1="581" y1="767" x2="600" y2="767" stroke="#ccc" stroke-width="2"/>
<line x1="581" y1="781" x2="600" y2="781" stroke="#ccc" stroke-width="2"/>
<line x1="581" y1="807" x2="600" y2="807" stroke="#ccc" stroke-width="2"/>
<rect x="619" y="762" width="16" height="58" rx="3" fill="none" stroke="#aaa" stroke-width="1.6"/>
<rect x="578" y="834" width="66" height="42" fill="#191919" stroke="#3a3a3a" stroke-width="1.5"/>
<path d="M642,838 L652,838 L652,872 L642,872 M646,848 L652,848 M646,862 L652,862" fill="none" stroke="#888" stroke-width="1.5"/>
<line x1="590" y1="849" x2="622" y2="849" stroke="#ccc" stroke-width="2.5"/>
<path d="M699,790 L722,791 L722,764" fill="none" stroke="#8a8a8a" stroke-width="1.6"/>
<path d="M716,762 L716,786 L710,786 C702,786 698,780 698,774 C698,768 702,762 710,762 Z" fill="#9a94a2" stroke="#f0f0f0" stroke-width="2.6"/>
<circle cx="693" cy="776" r="2" fill="#ddd"/><circle cx="730" cy="776" r="2" fill="#bbb"/>
<path d="M755,791 L778,792 L778,765" fill="none" stroke="#8a8a8a" stroke-width="1.6"/>
<path d="M772,763 L772,787 L766,787 C758,787 754,781 754,775 C754,769 758,763 766,763 Z" fill="#9a94a2" stroke="#f0f0f0" stroke-width="2.6"/>
<circle cx="749" cy="777" r="2" fill="#ddd"/><circle cx="786" cy="777" r="2" fill="#bbb"/>
<path d="M957,793 L980,794 L980,767" fill="none" stroke="#8a8a8a" stroke-width="1.6"/>
<path d="M974,765 L974,789 L968,789 C960,789 956,783 956,777 C956,771 960,765 968,765 Z" fill="#9a94a2" stroke="#f0f0f0" stroke-width="2.6"/>
<circle cx="951" cy="779" r="2" fill="#ddd"/><circle cx="988" cy="779" r="2" fill="#bbb"/>
<path d="M1011,795 L1034,796 L1034,769" fill="none" stroke="#8a8a8a" stroke-width="1.6"/>
<path d="M1028,767 L1028,791 L1022,791 C1014,791 1010,785 1010,779 C1010,773 1014,767 1022,767 Z" fill="#9a94a2" stroke="#f0f0f0" stroke-width="2.6"/>
<circle cx="1005" cy="781" r="2" fill="#ddd"/><circle cx="1042" cy="781" r="2" fill="#bbb"/>
<path d="M699,849 C699,859 707,862 715,862 C723,862 727,857 728,851" fill="none" stroke="#8a8a8a" stroke-width="1.6"/>
<path d="M705,833 L705,857 L711,857 C719,857 723,851 723,845 C723,839 719,833 711,833 Z" fill="#9a94a2" stroke="#f0f0f0" stroke-width="2.6"/>
<circle cx="737" cy="850" r="2" fill="#ddd"/>
<path d="M754,849 C754,859 762,862 770,862 C778,862 782,857 783,851" fill="none" stroke="#8a8a8a" stroke-width="1.6"/>
<path d="M760,833 L760,857 L766,857 C774,857 778,851 778,845 C778,839 774,833 766,833 Z" fill="#9a94a2" stroke="#f0f0f0" stroke-width="2.6"/>
<circle cx="792" cy="850" r="2" fill="#ddd"/>
<path d="M953,853 C953,863 961,866 969,866 C977,866 981,861 982,855" fill="none" stroke="#8a8a8a" stroke-width="1.6"/>
<path d="M959,837 L959,861 L965,861 C973,861 977,855 977,849 C977,843 973,837 965,837 Z" fill="#9a94a2" stroke="#f0f0f0" stroke-width="2.6"/>
<circle cx="991" cy="854" r="2" fill="#ddd"/>
<path d="M1007,854 C1007,864 1015,867 1023,867 C1031,867 1035,862 1036,856" fill="none" stroke="#8a8a8a" stroke-width="1.6"/>
<path d="M1013,838 L1013,862 L1019,862 C1027,862 1031,856 1031,850 C1031,844 1027,838 1019,838 Z" fill="#9a94a2" stroke="#f0f0f0" stroke-width="2.6"/>
<circle cx="1045" cy="855" r="2" fill="#ddd"/>
<circle cx="714.5" cy="814" r="8.5" fill="none" stroke="#dccc66" stroke-width="5"/>
<circle cx="714.5" cy="814" r="5.5" fill="#3a1418"/>
<circle cx="1035" cy="816" r="8.5" fill="none" stroke="#dccc66" stroke-width="5"/>
<circle cx="1035" cy="816" r="5.5" fill="#3a1418"/>
<g fill="#ece4c4"><path d="M842,807 C850,791 868,781 893,778 L892,782 C874,787 859,797 850,808 Z"/><path d="M848,808 C862,797 880,790 900,788 C897,800 889,812 878,821 C867,819 857,814 848,808 Z"/></g>
<path d="M858,808 C869,802 881,798 892,796 C888,804 883,810 876,815 C869,814 863,811 858,808 Z" fill="#161220"/>
<path d="M825,798 C832,806 839,813 847,819" fill="none" stroke="#ece4c4" stroke-width="2.6"/>
<text x="811" y="842" font-family='"Liberation Sans", sans-serif' font-weight="bold" font-size="13.5" fill="#cfc6a8" textLength="110" lengthAdjust="spacingAndGlyphs">REPUBLIC OF</text>
<text x="830" y="854.5" font-family='"Liberation Sans", sans-serif' font-weight="bold" font-size="10.5" fill="#cfc6a8" textLength="70" lengthAdjust="spacingAndGlyphs">GAMERS</text>
<rect x="1085.5" y="717" width="56.5" height="203" fill="#141414" stroke="#9a9890" stroke-width="1.5"/>
<rect x="1100" y="734.5" width="42.5" height="158" fill="#8c8890"/>
<rect x="1090" y="741.5" width="11" height="148" fill="#0a0a0a"/>
<rect x="1093.5" y="758" width="3.5" height="2.5" fill="#8a7a50"/>
<rect x="1093.5" y="765" width="3.5" height="2.5" fill="#8a7a50"/>
<rect x="1093.5" y="772" width="3.5" height="2.5" fill="#8a7a50"/>
<rect x="1093.5" y="779" width="3.5" height="2.5" fill="#8a7a50"/>
<rect x="1093.5" y="786" width="3.5" height="2.5" fill="#8a7a50"/>
<rect x="1093.5" y="793" width="3.5" height="2.5" fill="#8a7a50"/>
<rect x="1093.5" y="800" width="3.5" height="2.5" fill="#8a7a50"/>
<rect x="1093.5" y="807" width="3.5" height="2.5" fill="#8a7a50"/>
<rect x="1093.5" y="814" width="3.5" height="2.5" fill="#8a7a50"/>
<rect x="1093.5" y="821" width="3.5" height="2.5" fill="#8a7a50"/>
<rect x="1093.5" y="828" width="3.5" height="2.5" fill="#8a7a50"/>
<rect x="1093.5" y="835" width="3.5" height="2.5" fill="#8a7a50"/>
<rect x="1093.5" y="842" width="3.5" height="2.5" fill="#8a7a50"/>
<rect x="1093.5" y="849" width="3.5" height="2.5" fill="#8a7a50"/>
<rect x="1093.5" y="856" width="3.5" height="2.5" fill="#8a7a50"/>
<rect x="1093.5" y="863" width="3.5" height="2.5" fill="#8a7a50"/>
<rect x="1117.5" y="753" width="23.5" height="128" fill="#0c0c0c"/>
<rect x="1117.5" y="763" width="23.5" height="105" fill="#d4c49c"/>
<line x1="1117.5" y1="766" x2="1141" y2="766" stroke="#5a4a30" stroke-width="1.6"/>
<line x1="1117.5" y1="773" x2="1141" y2="773" stroke="#5a4a30" stroke-width="1.6"/>
<line x1="1117.5" y1="780" x2="1141" y2="780" stroke="#5a4a30" stroke-width="1.6"/>
<line x1="1117.5" y1="787" x2="1141" y2="787" stroke="#5a4a30" stroke-width="1.6"/>
<line x1="1117.5" y1="794" x2="1141" y2="794" stroke="#5a4a30" stroke-width="1.6"/>
<line x1="1117.5" y1="801" x2="1141" y2="801" stroke="#5a4a30" stroke-width="1.6"/>
<line x1="1117.5" y1="808" x2="1141" y2="808" stroke="#5a4a30" stroke-width="1.6"/>
<line x1="1117.5" y1="815" x2="1141" y2="815" stroke="#5a4a30" stroke-width="1.6"/>
<line x1="1117.5" y1="822" x2="1141" y2="822" stroke="#5a4a30" stroke-width="1.6"/>
<line x1="1117.5" y1="829" x2="1141" y2="829" stroke="#5a4a30" stroke-width="1.6"/>
<line x1="1117.5" y1="836" x2="1141" y2="836" stroke="#5a4a30" stroke-width="1.6"/>
<line x1="1117.5" y1="843" x2="1141" y2="843" stroke="#5a4a30" stroke-width="1.6"/>
<line x1="1117.5" y1="850" x2="1141" y2="850" stroke="#5a4a30" stroke-width="1.6"/>
<line x1="1117.5" y1="857" x2="1141" y2="857" stroke="#5a4a30" stroke-width="1.6"/>
<line x1="1117.5" y1="864" x2="1141" y2="864" stroke="#5a4a30" stroke-width="1.6"/>
<path d="M127,1502 L208,1502 L167.5,1583 Z" fill="#f5f000" stroke="#2a2a2a" stroke-width="3.2" stroke-linejoin="round"/>
<path d="M163,1513 L171,1513 L168.5,1547 L165.5,1547 Z" fill="#111"/><rect x="163.5" y="1552" width="7" height="7" fill="#111"/>
<text x="77" y="75" font-size="59" font-weight="normal" fill="#222" stroke="#222" stroke-width="1.5" textLength="1443" lengthAdjust="spacingAndGlyphs">Temperature control ARGB controller wiring diagram</text>
<text x="491" y="138" font-size="42" font-weight="normal" fill="#2a2a2a" stroke="#fff" stroke-width="0.5" textLength="714" lengthAdjust="spacingAndGlyphs">CONTROLLER INSTALLATION DIAGRAM</text>
<text x="501" y="301" font-size="41" font-weight="normal" fill="#222" stroke="#fff" stroke-width="0.7" textLength="726" lengthAdjust="spacingAndGlyphs">Temperature controlled ARGB fan 5~fan 8</text>
<text x="645" y="351" font-size="31" font-weight="normal" fill="#2a2a2a" stroke="#2a2a2a" stroke-width="0.6" textLength="81" lengthAdjust="spacingAndGlyphs">FAN 5</text>
<text x="771.5" y="351" font-size="31" font-weight="normal" fill="#2a2a2a" stroke="#2a2a2a" stroke-width="0.6" textLength="81" lengthAdjust="spacingAndGlyphs">FAN 6</text>
<text x="896.5" y="351" font-size="31" font-weight="normal" fill="#2a2a2a" stroke="#2a2a2a" stroke-width="0.6" textLength="81" lengthAdjust="spacingAndGlyphs">FAN 7</text>
<text x="1019.5" y="351" font-size="31" font-weight="normal" fill="#2a2a2a" stroke="#2a2a2a" stroke-width="0.6" textLength="81" lengthAdjust="spacingAndGlyphs">FAN 8</text>
<text x="92.5" y="476.5" font-size="38.5" font-weight="normal" fill="#222" stroke="#fff" stroke-width="0.7" textLength="297" lengthAdjust="spacingAndGlyphs">Universal 5V3 pin</text>
<text x="34.5" y="524" font-size="38.5" font-weight="normal" fill="#222" stroke="#fff" stroke-width="0.7" textLength="416" lengthAdjust="spacingAndGlyphs">Motherboard sync cable</text>
<text x="118.5" y="593" font-size="33" font-weight="normal" fill="#333" stroke="#333" stroke-width="0.6" textLength="186" lengthAdjust="spacingAndGlyphs">SYNC 5V 3PIN</text>
<text x="1256" y="952" font-size="35" font-weight="normal" fill="#333" stroke="#333" stroke-width="0.5" textLength="250" lengthAdjust="spacingAndGlyphs">SATA power cable</text>
<text x="65" y="1133" font-size="39" font-weight="normal" fill="#222" stroke="#fff" stroke-width="0.7" textLength="263" lengthAdjust="spacingAndGlyphs">Insert CPU FAN</text>
<text x="189" y="1219.4" font-size="33.5" font-weight="normal" fill="#2e2e2e" stroke="#2e2e2e" stroke-width="0.25" textLength="314" lengthAdjust="spacingAndGlyphs">Temperature control</text>
<text x="257" y="1251" font-size="33.5" font-weight="normal" fill="#2e2e2e" stroke="#2e2e2e" stroke-width="0.25" textLength="183" lengthAdjust="spacingAndGlyphs">signal cable</text>
<text x="615" y="1297.4" font-size="33" font-weight="normal" fill="#e8202a" stroke="#e8202a" stroke-width="0.6" textLength="78" lengthAdjust="spacingAndGlyphs">FAN 1</text>
<g word-spacing="-1.5">
<text x="594.5" y="1318.5" font-size="21" font-weight="normal" fill="#e83444" stroke="#e83444" stroke-width="1.1" textLength="116" lengthAdjust="spacingAndGlyphs">CPU COOLER</text>
</g>
<text x="736.5" y="1306.3" font-size="31" font-weight="normal" fill="#333" stroke="#333" stroke-width="0.7" textLength="80" lengthAdjust="spacingAndGlyphs">FAN 2</text>
<text x="865.5" y="1306.3" font-size="31" font-weight="normal" fill="#333" stroke="#333" stroke-width="0.7" textLength="80" lengthAdjust="spacingAndGlyphs">FAN 3</text>
<text x="990.5" y="1306.3" font-size="31" font-weight="normal" fill="#333" stroke="#333" stroke-width="0.7" textLength="80" lengthAdjust="spacingAndGlyphs">FAN 4</text>
<text x="462.5" y="1377.2" font-size="42" font-weight="normal" fill="#222" stroke="#fff" stroke-width="0.7" textLength="725" lengthAdjust="spacingAndGlyphs">Temperature controlled ARGB fan 1~fan 4</text>
<text x="441.5" y="1428.75" font-size="41" font-weight="normal" fill="#e60012" stroke="#fff" stroke-width="0.5" textLength="861" lengthAdjust="spacingAndGlyphs">FAN1 recommends plugging in a CPU radiator fan</text>
<text x="424.5" y="1432" font-size="33" font-weight="normal" fill="#e60012" stroke="#e60012" stroke-width="0.5" textLength="16" lengthAdjust="spacingAndGlyphs">*</text>
<g word-spacing="-2.5">
<text x="229.5" y="1546.4" font-size="31.5" font-weight="normal" fill="#e8404c" stroke="#e8404c" stroke-width="0.4" textLength="1289" lengthAdjust="spacingAndGlyphs">please do not plug in the wrong power supply interface, otherwise it will burn out equipment !</text>
</g>
</svg>
</body></html>
